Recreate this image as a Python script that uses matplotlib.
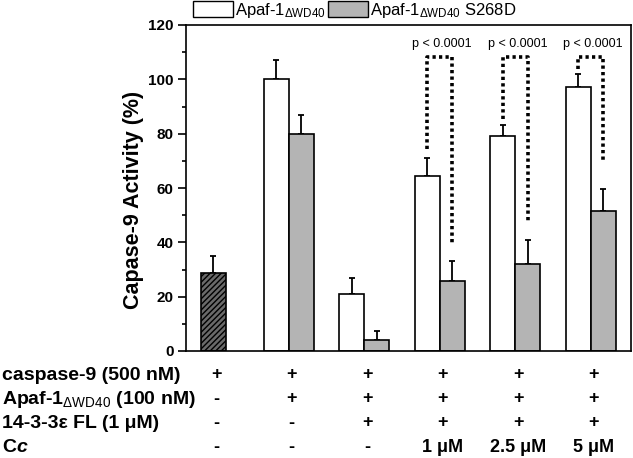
import matplotlib
matplotlib.use('Agg')
import matplotlib.pyplot as plt
import matplotlib.transforms as mtransforms
from matplotlib.patches import Patch
import numpy as np

plt.rcParams['font.family'] = ['Liberation Sans', 'DejaVu Sans']
plt.rcParams['mathtext.fontset'] = 'custom'
plt.rcParams['mathtext.rm'] = 'Liberation Sans'
plt.rcParams['mathtext.it'] = 'Liberation Sans:italic:bold'
plt.rcParams['mathtext.bf'] = 'Liberation Sans:bold'
plt.rcParams['hatch.color'] = '#2e2e2e'
plt.rcParams['hatch.linewidth'] = 1.0

# 数据
ctrl_val = 28.7
ctrl_err = 6.4
wt_val = [100.0, 21.0, 64.5, 79.1, 97.0]
wt_err = [7.3, 5.8, 6.6, 4.2, 5.0]
mut_val = [80.0, 3.9, 25.7, 32.0, 51.7]
mut_err = [6.9, 3.6, 7.5, 9.0, 8.0]

# 显著性括号（第4~6组）
bracket_left = [74.2, 85.3, 103.8]
bracket_right = [39.5, 47.7, 69.1]
bracket_top = 108.4
p_labels = ['p < 0.0001', 'p < 0.0001', 'p < 0.0001']

row_names = ['caspase-9 (500 nM)',
             r'Apaf-1$_{\mathrm{\Delta WD40}}$ (100 nM)',
             '14-3-3ε FL (1 μM)',
             r'C$\mathit{c}$']
row_marks = [['+', '+', '+', '+', '+', '+'],
             ['-', '+', '+', '+', '+', '+'],
             ['-', '-', '+', '+', '+', '+'],
             ['-', '-', '-', '1 μM', '2.5 μM', '5 μM']]

legend_labels = [r'Apaf-1$_{\mathrm{\Delta WD40}}$',
                 r'Apaf-1$_{\mathrm{\Delta WD40}}$ S268D']

W, H = 633, 458
fig = plt.figure(figsize=(W / 100, H / 100), dpi=100)
ax = fig.add_axes([186 / W, 1 - 351 / H, (631 - 186) / W, (351 - 25) / H])

x = np.arange(1, 7)
bw = 0.332
ekw = dict(fmt='none', ecolor='black', elinewidth=1.3, capsize=2.5, capthick=1.3, zorder=1)

ax.bar(x[0], ctrl_val, bw, color='#6a6a6a', edgecolor='black', linewidth=1.2,
       hatch='//////', zorder=2)
ax.errorbar(x[0], ctrl_val, yerr=[[0], [ctrl_err]], **ekw)

xw = x[1:] - bw / 2
xm = x[1:] + bw / 2
ax.bar(xw, wt_val, bw, color='white', edgecolor='black', linewidth=1.2, zorder=2)
ax.bar(xm, mut_val, bw, color='#b4b4b4', edgecolor='black', linewidth=1.2, zorder=2)
ax.errorbar(xw, wt_val, yerr=[np.zeros(5), wt_err], **ekw)
ax.errorbar(xm, mut_val, yerr=[np.zeros(5), mut_err], **ekw)

# 虚线括号
for i in range(3):
    xl, xr = xw[i + 2], xm[i + 2]
    ax.plot([xl, xl, xr, xr], [bracket_left[i], bracket_top, bracket_top, bracket_right[i]],
            color='black', lw=2.6, linestyle=(0, (0.9, 0.9)), zorder=3)
    ax.text((xl + xr) / 2 + 0.03, 113, p_labels[i], ha='center', va='center', fontsize=9)

ax.set_xlim(0.642, 6.53)
ax.set_ylim(0, 120)
ax.set_xticks([])
ax.set_yticks(np.arange(0, 121, 20))
ax.set_yticks(np.arange(10, 120, 20), minor=True)
ax.tick_params(axis='y', which='major', direction='out', length=6, width=1.2,
               labelsize=11, pad=3)
ax.tick_params(axis='y', which='minor', direction='out', length=3, width=1.2)
for lbl in ax.get_yticklabels():
    lbl.set_fontweight('bold')
for sp in ax.spines.values():
    sp.set_linewidth(1.2)

fig.text(133 / W, 1 - 200 / H, 'Capase-9 Activity (%)', rotation=90, ha='center',
         va='center', fontsize=15.5, fontweight='bold')

# 图例
handles = [Patch(facecolor='white', edgecolor='black', linewidth=1.0),
           Patch(facecolor='#b4b4b4', edgecolor='black', linewidth=1.0)]
fig.legend(handles, legend_labels, loc='upper left', bbox_to_anchor=(192 / W, 1.0),
           ncol=2, frameon=False, fontsize=12, handlelength=2.4, handleheight=1.1,
           handletextpad=0.15, columnspacing=0.1, borderpad=0.05, borderaxespad=0)

# 下方条件表
trans = mtransforms.blended_transform_factory(ax.transData, fig.transFigure)
row_y = [375, 399, 423, 447]
for r in range(4):
    fig.text(2 / W, 1 - row_y[r] / H, row_names[r], ha='left', va='center',
             fontsize=14, fontweight='bold')
    for c in range(6):
        ax.text(x[c] + 0.04, 1 - row_y[r] / H, row_marks[r][c], transform=trans,
                ha='center', va='center', fontsize=13, fontweight='bold')

fig.savefig('out.png', dpi=100)
